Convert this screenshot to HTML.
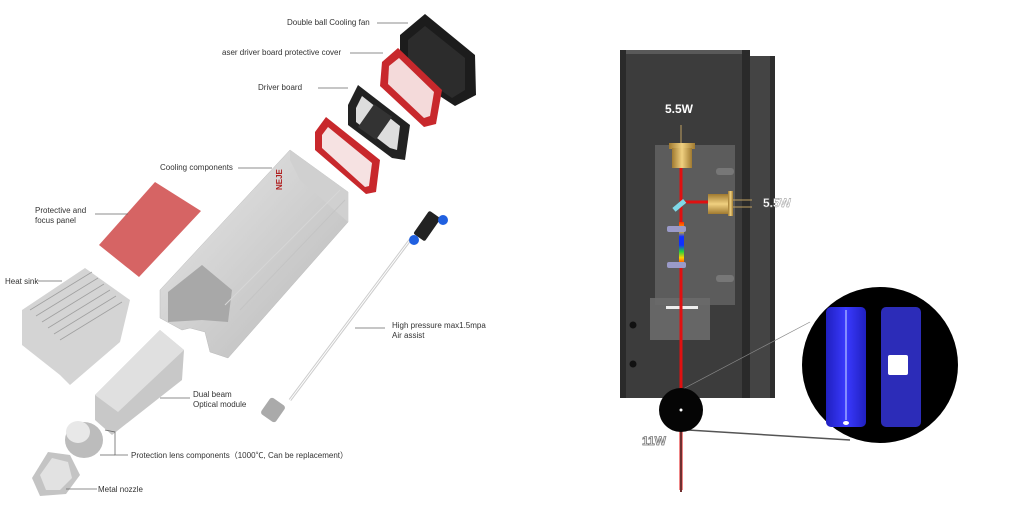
<!DOCTYPE html>
<html><head><meta charset="utf-8"><style>
html,body{margin:0;padding:0;background:#fff;}
svg{display:block}
text{font-family:"Liberation Sans","Noto Sans CJK SC",sans-serif;}
.l{font-size:8px;fill:#333}
.ln{stroke:#666;stroke-width:0.8;fill:none}
</style></head><body>
<svg width="1024" height="512" viewBox="0 0 1024 512" xmlns="http://www.w3.org/2000/svg">
<defs>
<linearGradient id="alu" x1="0" y1="0" x2="1" y2="1"><stop offset="0" stop-color="#e8e8e8"/><stop offset="1" stop-color="#b8b8b8"/></linearGradient>
<linearGradient id="spec" x1="0" y1="0" x2="0" y2="1"><stop offset="0" stop-color="#ff3000"/><stop offset="0.2" stop-color="#ffd000"/><stop offset="0.35" stop-color="#1030ff"/><stop offset="0.55" stop-color="#1030ff"/><stop offset="0.7" stop-color="#20d040"/><stop offset="0.85" stop-color="#ffd000"/><stop offset="1" stop-color="#ff3000"/></linearGradient>
<linearGradient id="gold" x1="0" y1="0" x2="1" y2="0"><stop offset="0" stop-color="#a07a30"/><stop offset="0.5" stop-color="#f0d080"/><stop offset="1" stop-color="#a07a30"/></linearGradient>
<linearGradient id="blue1" x1="0" y1="0" x2="1" y2="0"><stop offset="0" stop-color="#2020c0"/><stop offset="0.5" stop-color="#3a3aff"/><stop offset="1" stop-color="#2020c0"/></linearGradient>
</defs>

<!-- LEFT: exploded view -->
<!-- fan -->
<polygon points="400,35 425,14 475,55 476,95 455,106 400,70" fill="#1c1c1c"/>
<polygon points="408,40 425,26 465,58 465,90 452,98 408,68" fill="#2c2c2c"/>
<!-- upper red frame -->
<polygon points="382,62 398,48 442,90 436,124 424,127 380,86" fill="#c8282c"/>
<polygon points="389,66 399,58 434,92 430,116 424,118 388,84" fill="#f4dada"/>
<!-- driver board -->
<polygon points="348,105 358,85 410,125 405,160 392,158 348,125" fill="#222"/>
<polygon points="356,108 362,96 400,126 397,150 390,148 356,122" fill="#ddd"/>
<rect x="364" y="108" width="22" height="28" fill="#333" transform="rotate(35 375 122)"/>
<!-- lower red frame -->
<polygon points="315,132 326,117 380,160 376,192 366,194 315,150" fill="#c8282c"/>
<polygon points="322,135 328,127 372,163 369,186 365,187 322,148" fill="#f6e2e2"/>
<!-- main housing -->
<polygon points="160,290 290,150 348,192 348,222 228,358 210,352 205,332 190,328 182,330 160,318" fill="url(#alu)" stroke="#bbb" stroke-width="0.5"/>
<polygon points="290,150 348,192 348,222 300,180 290,160" fill="#d0d0d0"/>
<polygon points="168,292 202,265 232,290 228,322 202,320 168,322" fill="#a8a8a8"/>
<line x1="240" y1="310" x2="345" y2="200" stroke="#c4c4c4"/>
<line x1="225" y1="305" x2="340" y2="190" stroke="#d6d6d6"/>
<text x="262" y="190" font-size="8" font-weight="bold" fill="#b02020" transform="rotate(-90 272 180)">NEJE</text>
<!-- red panel -->
<polygon points="99,245 155,182 201,211 139,277" fill="#d66464"/>
<!-- heat sink -->
<polygon points="22,310 85,268 130,300 120,342 70,385 60,375 22,345" fill="#d4d4d4"/>
<g stroke="#a0a0a0" stroke-width="0.8">
<line x1="30" y1="310" x2="92" y2="272"/><line x1="36" y1="316" x2="98" y2="278"/><line x1="42" y1="322" x2="104" y2="284"/><line x1="48" y1="328" x2="110" y2="290"/><line x1="54" y1="334" x2="116" y2="296"/><line x1="60" y1="340" x2="122" y2="302"/>
</g>
<!-- optical module -->
<polygon points="95,395 160,330 184,350 182,380 112,435 95,420" fill="#c8c8c8"/>
<polygon points="95,395 160,330 184,350 118,412" fill="#e0e0e0"/>
<!-- lens -->
<ellipse cx="84" cy="440" rx="19" ry="18" fill="#bcbcbc"/>
<ellipse cx="78" cy="432" rx="12" ry="11" fill="#e8e8e8"/>
<!-- nozzle -->
<polygon points="32,478 48,452 70,455 80,475 66,494 40,496" fill="#c4c4c4"/>
<polygon points="40,475 52,458 68,462 72,478 60,490 46,490" fill="#e2e2e2"/>
<!-- tube -->
<line x1="410" y1="240" x2="290" y2="400" stroke="#ccc" stroke-width="3"/>
<line x1="410" y1="240" x2="290" y2="400" stroke="#fff" stroke-width="1"/>
<rect x="420" y="212" width="14" height="28" rx="2" fill="#222" transform="rotate(35 427 226)"/>
<circle cx="443" cy="220" r="5" fill="#2060e0"/>
<circle cx="414" cy="240" r="5" fill="#2060e0"/>
<rect x="264" y="400" width="18" height="20" rx="3" fill="#aaa" transform="rotate(35 273 410)"/>

<!-- labels -->
<text class="l" x="287" y="25">Double ball Cooling fan</text><line class="ln" x1="377" y1="23" x2="408" y2="23"/>
<text class="l" x="222" y="55">aser driver board protective cover</text><line class="ln" x1="350" y1="53" x2="383" y2="53"/>
<text class="l" x="258" y="90">Driver board</text><line class="ln" x1="318" y1="88" x2="348" y2="88"/>
<text class="l" x="160" y="170">Cooling components</text><line class="ln" x1="238" y1="168" x2="272" y2="168"/>
<text class="l" x="35" y="213">Protective and</text><text class="l" x="35" y="223">focus panel</text><line class="ln" x1="95" y1="214" x2="128" y2="214"/>
<text class="l" x="5" y="284">Heat sink</text><line class="ln" x1="38" y1="281" x2="62" y2="281"/>
<text class="l" x="193" y="397">Dual beam</text><text class="l" x="193" y="407">Optical module</text><line class="ln" x1="160" y1="398" x2="190" y2="398"/>
<text class="l" x="131" y="458">Protection lens components（1000℃,  Can be replacement）</text>
<polyline class="ln" points="105,430 115,432 115,455 128,455"/><line class="ln" x1="100" y1="455" x2="115" y2="455"/>
<text class="l" x="98" y="492">Metal  nozzle</text><line class="ln" x1="66" y1="489" x2="97" y2="489"/>
<text class="l" x="392" y="328">High pressure max1.5mpa</text><text class="l" x="392" y="338">Air assist</text><line class="ln" x1="355" y1="328" x2="385" y2="328"/>

<!-- RIGHT: housing -->
<rect x="620" y="50" width="128" height="348" fill="#3c3c3c"/>
<rect x="620" y="50" width="6" height="348" fill="#2a2a2a"/>
<rect x="742" y="50" width="8" height="348" fill="#2a2a2a"/>
<rect x="750" y="56" width="25" height="342" fill="#444"/>
<rect x="770" y="56" width="5" height="342" fill="#2e2e2e"/>
<rect x="626" y="50" width="116" height="4" fill="#fff" opacity="0.15"/>
<!-- plate -->
<rect x="655" y="145" width="80" height="160" fill="#5c5c5c"/>
<rect x="716" y="168" width="18" height="7" rx="3" fill="#777"/>
<rect x="716" y="275" width="18" height="7" rx="3" fill="#777"/>
<!-- bottom holder -->
<rect x="650" y="298" width="60" height="42" fill="#6a6a6a" opacity="0.9"/>
<rect x="666" y="306" width="32" height="3" fill="#eee"/>
<circle cx="633" cy="325" r="3.5" fill="#111"/><circle cx="633" cy="364" r="3.5" fill="#111"/>
<!-- beams -->
<line x1="681" y1="165" x2="681" y2="490" stroke="#e01010" stroke-width="3"/>
<line x1="681" y1="420" x2="681" y2="492" stroke="#703030" stroke-width="2"/>
<line x1="683" y1="202" x2="710" y2="202" stroke="#e01010" stroke-width="3"/>
<rect x="679" y="222" width="5" height="42" fill="url(#spec)"/>
<rect x="667" y="226" width="19" height="6" rx="2" fill="#9a9ac8"/>
<rect x="667" y="262" width="19" height="6" rx="2" fill="#9a9ac8"/>
<rect x="672" y="203" width="14" height="5" fill="#80d8e8" transform="rotate(-40 679 205)"/>
<!-- diodes -->
<line x1="681" y1="125" x2="681" y2="145" stroke="#c0a060" stroke-width="1"/>
<rect x="669" y="143" width="26" height="6" fill="url(#gold)"/>
<rect x="672" y="148" width="20" height="20" fill="url(#gold)"/>
<rect x="708" y="194" width="20" height="20" fill="url(#gold)" transform="rotate(90 718 204)"/>
<rect x="728" y="191" width="5" height="25" fill="url(#gold)"/>
<line x1="733" y1="200" x2="752" y2="200" stroke="#c0a060"/><line x1="733" y1="207" x2="752" y2="207" stroke="#c0a060"/>
<text x="665" y="113" font-size="12" font-weight="bold" fill="#fff">5.5W</text>
<text x="763" y="207" font-size="12" font-weight="bold" fill="#fff" stroke="#888" stroke-width="0.4">5.5W</text>
<!-- small circle and connectors -->
<line x1="681" y1="390" x2="810" y2="322" stroke="#888" stroke-width="0.7"/>
<line x1="688" y1="430" x2="850" y2="440" stroke="#555" stroke-width="1.5"/>
<circle cx="681" cy="410" r="22" fill="#050505"/>
<circle cx="681" cy="410" r="1.5" fill="#fff"/>
<text x="642" y="445" font-size="12" font-weight="bold" fill="#fff" stroke="#777" stroke-width="0.8">11W</text>
<!-- big circle -->
<circle cx="880" cy="365" r="78" fill="#000"/>
<rect x="826" y="307" width="40" height="120" rx="5" fill="url(#blue1)"/>
<line x1="846" y1="310" x2="846" y2="420" stroke="#cfe0ff" stroke-width="1"/>
<ellipse cx="846" cy="423" rx="3" ry="2" fill="#fff"/>
<rect x="881" y="307" width="40" height="120" rx="5" fill="#2c2cb8"/>
<rect x="888" y="355" width="20" height="20" rx="2" fill="#fff"/>
</svg>
</body></html>
